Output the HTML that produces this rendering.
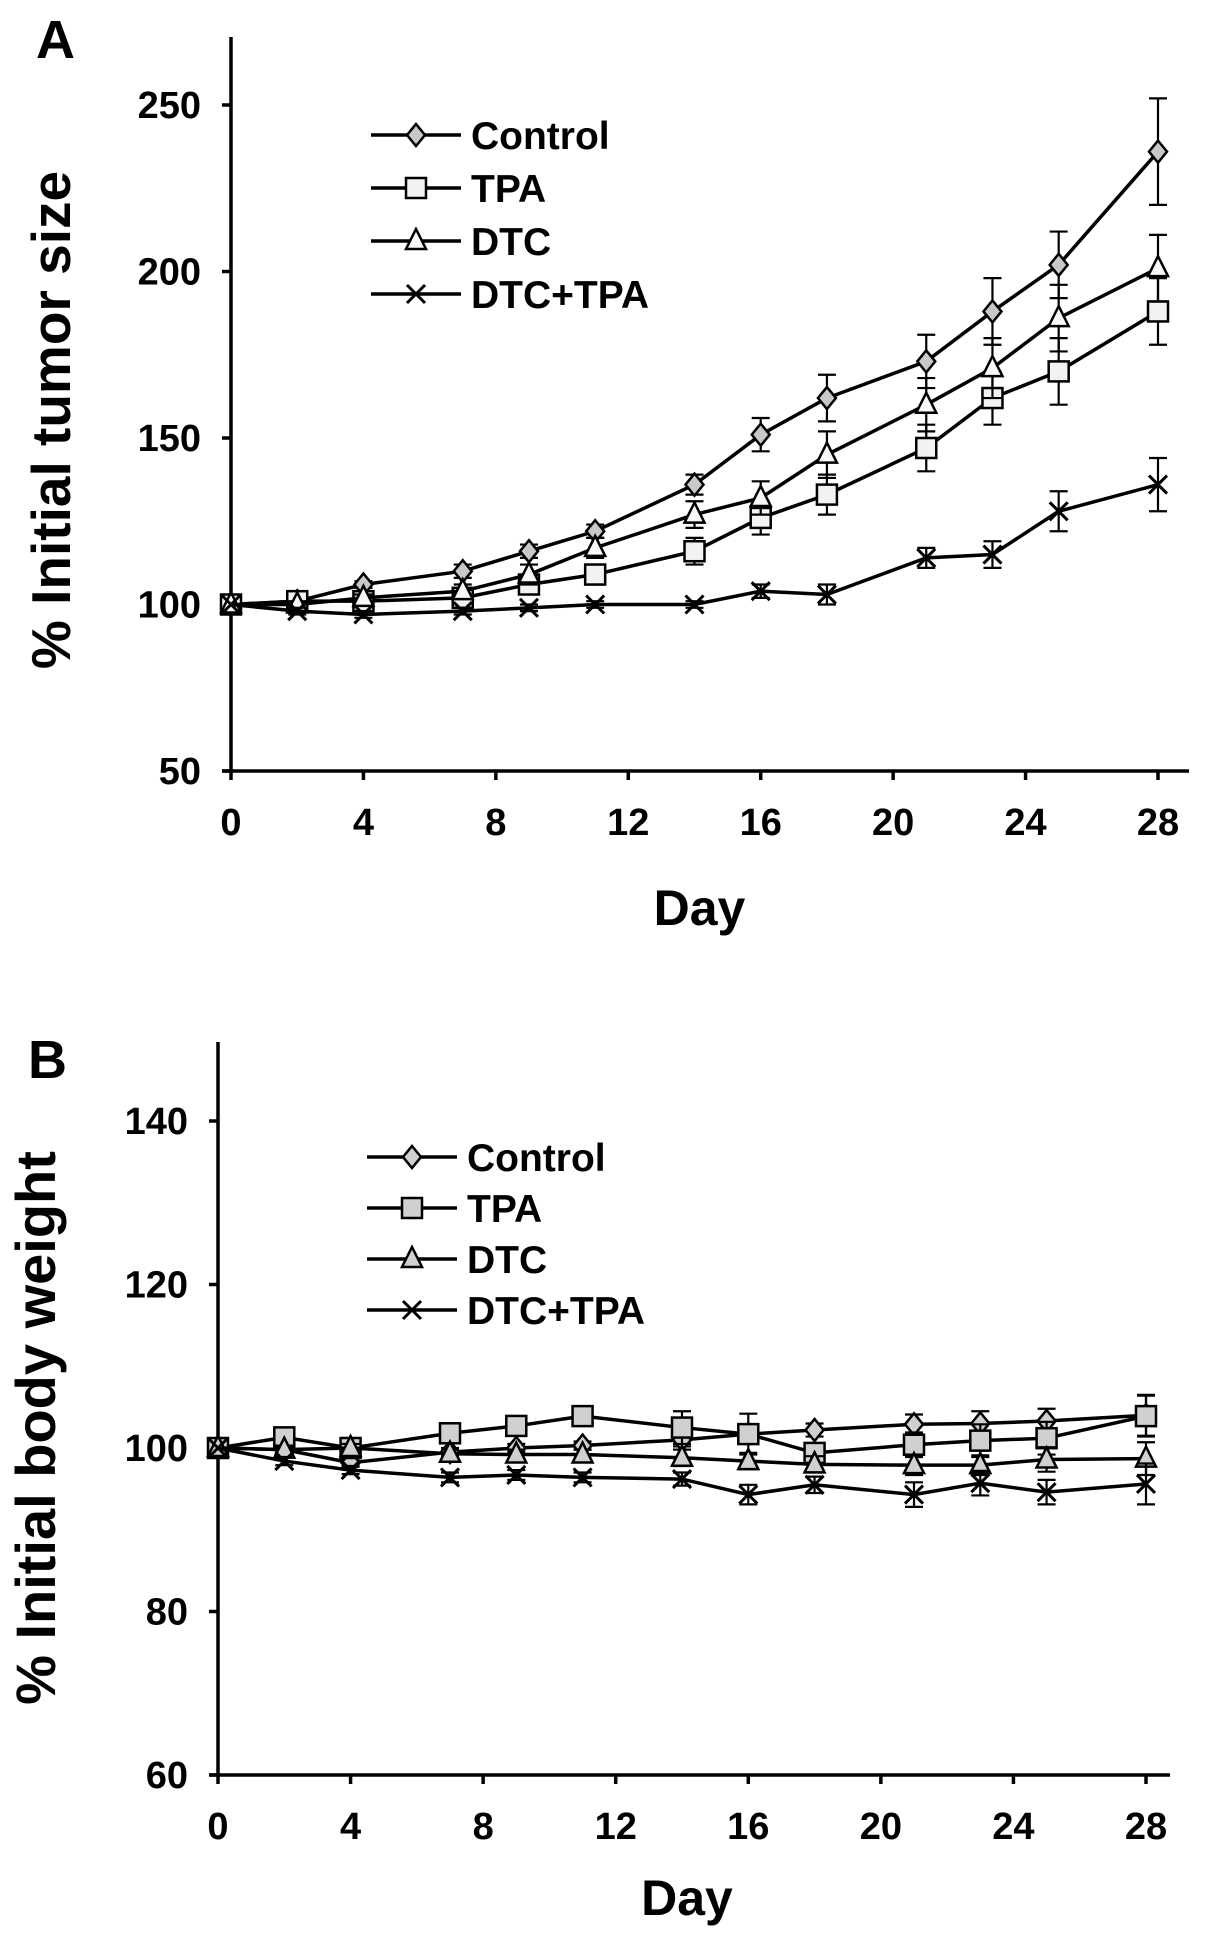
<!DOCTYPE html>
<html><head><meta charset="utf-8"><style>
html,body{margin:0;padding:0;background:#fff;}
svg{display:block;font-family:"Liberation Sans",Arial,sans-serif;font-weight:bold;}
</style></head><body>
<svg id="fig" width="1205" height="1939" viewBox="0 0 1205 1939" xmlns="http://www.w3.org/2000/svg"></svg>
<script>
const days = [0,2,4,7,9,11,14,16,18,21,23,25,28];
const seriesNames = ["Control","TPA","DTC","DTC+TPA"];
// Panel A: % initial tumor size
const tumorControl = [100,101,106,110,116,122,136,151,162,173,188,202,236];
const tumorTPA     = [100,101,101,102,106,109,116,126,133,147,162,170,188];
const tumorDTC     = [100,100,102,104,109,117,127,132,145,160,171,186,201];
const tumorDT      = [100,98,97,98,99,100,100,104,103,114,115,128,136];
const tumorErrControl = [0,1,1,2,2,2,3,5,7,8,10,10,16];
const tumorErrTPA     = [0,1,1,2,2,3,4,5,6,7,8,10,10];
const tumorErrDTC     = [0,1,1,2,3,3,4,5,7,8,9,10,10];
const tumorErrDT      = [0,1,1,1,1,1,1,2,3,3,4,6,8];
const tumorYTicks = [50,100,150,200,250];
// Panel B: % initial body weight
const weightControl = [100,99.8,98.2,99.5,100,100.3,101,101.7,102.2,102.9,103,103.3,104];
const weightTPA     = [100,101.3,100,101.8,102.7,103.9,102.5,101.7,99.4,100.4,100.9,101.2,103.9];
const weightDTC     = [100,99.8,100,99.3,99.2,99.2,98.8,98.4,98,97.9,97.9,98.6,98.7];
const weightDT      = [100,98.4,97.3,96.4,96.7,96.4,96.2,94.3,95.5,94.3,95.7,94.6,95.6];
const weightErrControl = [0,0.5,0.5,0.5,0.5,0.5,0.8,0.8,0.8,1.2,1.5,1.5,2.5];
const weightErrTPA     = [0,0.5,0.5,0.6,0.6,0.6,2,2.5,1,1.5,2,2,2.5];
const weightErrDTC     = [0,0.5,0.5,0.6,0.6,0.6,1,1,1,1.2,1.2,1.5,2];
const weightErrDT      = [0,0.5,0.5,0.6,0.6,0.6,0.8,1.2,1,1.5,1.5,1.5,2.5];
const weightYTicks = [60,80,100,120,140];
const xTicks = [0,4,8,12,16,20,24,28];

const NS="http://www.w3.org/2000/svg";
const svg=document.getElementById('fig');
function mk(tag,attrs,parent){const e=document.createElementNS(NS,tag);for(const k in attrs)e.setAttribute(k,attrs[k]);(parent||svg).appendChild(e);return e;}

function marker(g,type,cx,cy,fill){
  let e;
  if(type==='diamond'){e=mk('polygon',{points:`${cx},${cy-11} ${cx+9},${cy} ${cx},${cy+11} ${cx-9},${cy}`,fill:fill,stroke:'#000','stroke-width':2.5},g);}
  else if(type==='square'){e=mk('rect',{x:cx-10,y:cy-10,width:20,height:20,fill:fill,stroke:'#000','stroke-width':2.5},g);}
  else if(type==='triangle'){e=mk('polygon',{points:`${cx},${cy-12} ${cx+10},${cy+8} ${cx-10},${cy+8}`,fill:fill,stroke:'#000','stroke-width':2.5},g);}
  else {e=mk('path',{d:`M${cx-9},${cy-9}L${cx+9},${cy+9}M${cx+9},${cy-9}L${cx-9},${cy+9}`,stroke:'#000','stroke-width':3,fill:'none'},g);}
  return e;
}

function panel(cfg){
  const g=mk('g',{});
  
  
  const xs=d=>cfg.x0+(d-0)/28*(cfg.x28-cfg.x0);
  const ys=v=>cfg.yBot+(v-cfg.yMin)/(cfg.yMax-cfg.yMin)*(cfg.yTop-cfg.yBot);
  const ya=mk('line',{x1:cfg.x0,y1:cfg.axisTop,x2:cfg.x0,y2:cfg.yBot,stroke:'#000','stroke-width':3.5},g);
  
  const xa=mk('line',{x1:cfg.x0-8,y1:cfg.yBot,x2:cfg.axisRight,y2:cfg.yBot,stroke:'#000','stroke-width':3.5},g);
  
  cfg.yTicks.forEach(t=>{
    mk('line',{x1:cfg.x0-9,y1:ys(t),x2:cfg.x0,y2:ys(t),stroke:'#000','stroke-width':3.5},g);
    const tx=mk('text',{x:cfg.x0-30,y:ys(t)+13,'text-anchor':'end','font-size':38},g);
    tx.textContent=t;
    
  });
  xTicks.forEach(t=>{
    mk('line',{x1:xs(t),y1:cfg.yBot,x2:xs(t),y2:cfg.yBot+9,stroke:'#000','stroke-width':3.5},g);
    const tx=mk('text',{x:xs(t),y:cfg.yBot+64,'text-anchor':'middle','font-size':38},g);
    tx.textContent=t;
    
  });
  const xt=mk('text',{x:(cfg.x0+cfg.x28)/2+5,y:cfg.yBot+cfg.dayOff,'text-anchor':'middle','font-size':50},g);
  xt.textContent='Day';
  const yt=mk('text',{x:0,y:0,'text-anchor':'middle','font-size':cfg.ylSize,transform:`translate(${cfg.ylx},${cfg.yly}) rotate(-90)`},g);
  yt.textContent=cfg.ylabel;
  const pl=mk('text',{x:cfg.letterX,y:cfg.letterY,'font-size':54},g);
  pl.textContent=cfg.letter;
  cfg.series.forEach((s,si)=>{
    const sg=mk('g',{},g);
    
    
    days.forEach((d,i)=>{
      if(!s.err[i])return;
      const x=xs(d),y1=ys(s.vals[i]+s.err[i]),y2=ys(s.vals[i]-s.err[i]);
      const eb=mk('path',{d:`M${x},${y1}L${x},${y2}M${x-9},${y1}L${x+9},${y1}M${x-9},${y2}L${x+9},${y2}`,stroke:'#000','stroke-width':2.2,fill:'none'},sg);
      
    });
    const pts=days.map((d,i)=>xs(d)+','+ys(s.vals[i])).join(' ');
    const ln=mk('polyline',{points:pts,fill:'none',stroke:'#000','stroke-width':3.5},sg);
    
    days.forEach((d,i)=>{
      const m=marker(sg,s.marker,xs(d),ys(s.vals[i]),s.fill);
      
      
    });
    const ly=cfg.legY+si*cfg.legGap;
    const lg=mk('g',{},g);
    
    
    mk('line',{x1:cfg.legX,y1:ly,x2:cfg.legX+90,y2:ly,stroke:'#000','stroke-width':3.5},lg);
    marker(lg,s.marker,cfg.legX+45,ly,s.fill);
    const lt=mk('text',{x:cfg.legX+100,y:ly+14,'font-size':39},lg);
    lt.textContent=seriesNames[si];
  });
}

panel({name:'panel-a-tumor-size',letter:'A',letterX:36,letterY:58,ylabel:'% Initial tumor size',ylSize:55,ylx:70,yly:420,dayOff:154,
  x0:231,x28:1158,axisRight:1189,axisTop:37,yBot:771,yTop:105,yMin:50,yMax:250,yTicks:tumorYTicks,
  legX:371,legY:135,legGap:53,
  series:[
    {key:'control',vals:tumorControl,err:tumorErrControl,marker:'diamond',fill:'#c8c8c8'},
    {key:'tpa',vals:tumorTPA,err:tumorErrTPA,marker:'square',fill:'#f2f2f2'},
    {key:'dtc',vals:tumorDTC,err:tumorErrDTC,marker:'triangle',fill:'#f8f8f8'},
    {key:'dtc-tpa',vals:tumorDT,err:tumorErrDT,marker:'cross',fill:'none'}]});

panel({name:'panel-b-body-weight',letter:'B',letterX:28,letterY:1078,ylabel:'% Initial body weight',ylSize:56,ylx:55,yly:1428,dayOff:140,
  x0:218,x28:1146,axisRight:1170,axisTop:1042,yBot:1775,yTop:1121,yMin:60,yMax:140,yTicks:weightYTicks,
  legX:367,legY:1157,legGap:51,
  series:[
    {key:'control',vals:weightControl,err:weightErrControl,marker:'diamond',fill:'#d0d0d0'},
    {key:'tpa',vals:weightTPA,err:weightErrTPA,marker:'square',fill:'#d0d0d0'},
    {key:'dtc',vals:weightDTC,err:weightErrDTC,marker:'triangle',fill:'#d0d0d0'},
    {key:'dtc-tpa',vals:weightDT,err:weightErrDT,marker:'cross',fill:'none'}]});
</script>
</body></html>
